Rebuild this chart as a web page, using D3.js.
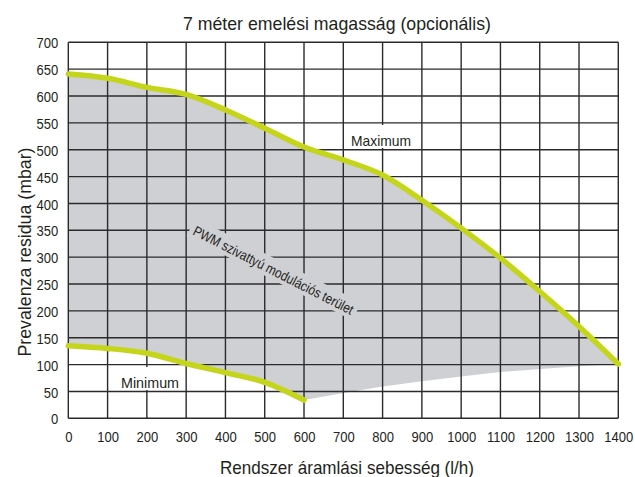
<!DOCTYPE html>
<html><head><meta charset="utf-8">
<script src="https://cdn.jsdelivr.net/npm/d3@7"></script>
<style>body{margin:0;background:#fff}svg{display:block}text{font-family:"Liberation Sans",Arial,sans-serif;fill:#231f20}</style>
</head><body><svg id="c" width="635" height="477"></svg>
<script>
const flows = [0,100,200,300,400,500,600,700,800,900,1000,1100,1200,1300,1400];
const maxCurve = [641,633,616,603,574,540,505,481,453,406,354,298,236,171,101];
const minFlows = [0,100,200,300,400,500,600];
const minCurve = [135,130,121,102,85,67,34];
const lowFlows = [600,700,800,900,1000,1100,1200,1300,1400];
const lowEdge = [34,47,59,69,78,86,92,97,101];
const xTicks = [0,100,200,300,400,500,600,700,800,900,1000,1100,1200,1300,1400];
const yTicks = [0,50,100,150,200,250,300,350,400,450,500,550,600,650,700];
const title = "7 méter emelési magasság (opcionális)";
const xTitle = "Rendszer áramlási sebesség (l/h)";
const yTitle = "Prevalenza residua (mbar)";

const svg = d3.select("#c");
const x = d3.scaleLinear().domain([0,1400]).range([68.3,618.3]);
const y = d3.scaleLinear().domain([0,700]).range([418.3,42.3]);

function condense(sel, f, fixed){
  sel.each(function(){
    const w = fixed || this.getComputedTextLength()*f;
    d3.select(this).attr("textLength",w).attr("lengthAdjust","spacingAndGlyphs");
  });
}

const upper = flows.map((f,i)=>[f,maxCurve[i]]);
const lower = minFlows.map((f,i)=>[f,minCurve[i]]).concat(lowFlows.slice(1).map((f,i)=>[f,lowEdge[i+1]]));
const lineGen = d3.line().x(d=>x(d[0])).y(d=>y(d[1])).curve(d3.curveMonotoneX);
const upPath = lineGen(upper);
const lowPathRev = d3.line().x(d=>x(d[0])).y(d=>y(d[1])).curve(d3.curveLinear)(lower.slice().reverse());
svg.append("path").attr("d", upPath + "L" + lowPathRev.slice(1) + "Z").attr("fill","#cfd0d3");

const g = svg.append("g").attr("stroke","#2b2b2b").attr("stroke-width",1.4);
xTicks.forEach(t=>g.append("line").attr("x1",x(t)).attr("x2",x(t)).attr("y1",y(0)).attr("y2",y(700)));
yTicks.forEach(t=>g.append("line").attr("y1",y(t)).attr("y2",y(t)).attr("x1",x(0)).attr("x2",x(1400)));

const xa = svg.append("g").attr("transform",`translate(0,${y(0)})`)
  .call(d3.axisBottom(x).tickValues(xTicks).tickSize(0).tickPadding(13).tickFormat(d3.format("d")));
const ya = svg.append("g").attr("transform",`translate(${x(0)-10},0)`)
  .call(d3.axisLeft(y).tickValues(yTicks).tickSize(0).tickPadding(0).tickFormat(d3.format("d")));
[xa,ya].forEach(a=>{a.select(".domain").remove();a.selectAll("text").attr("font-size",15.5).attr("font-family",null).style("fill","#231f20");condense(a.selectAll("text"),0.84);});
ya.selectAll("text").attr("dy","0.36em");

svg.append("rect").attr("x",347).attr("y",125).attr("width",68).attr("height",23).attr("fill","#fff");
condense(svg.append("text").attr("x",381).attr("y",146).attr("text-anchor","middle").attr("font-size",15).text("Maximum"),0,60);
svg.append("rect").attr("x",117).attr("y",367).attr("width",67).attr("height",23).attr("fill","#fff");
condense(svg.append("text").attr("x",150).attr("y",388).attr("text-anchor","middle").attr("font-size",15).text("Minimum"),0,58);

const pw = svg.append("g").attr("transform","translate(273,271) rotate(27)");
pw.append("rect").attr("x",-93).attr("y",-12).attr("width",186).attr("height",20).attr("fill","#cfd0d3");
condense(pw.append("text").attr("text-anchor","middle").attr("y",4).attr("font-size",14).text("PWM szivattyú modulációs terület"),0,178);

svg.append("path").attr("d",upPath).attr("fill","none").attr("stroke","#c5d51c").attr("stroke-width",5.5).attr("stroke-linecap","round");
svg.append("path").attr("d",lineGen(minFlows.map((f,i)=>[f,minCurve[i]]))).attr("fill","none").attr("stroke","#c5d51c").attr("stroke-width",5.5).attr("stroke-linecap","round");

condense(svg.append("text").attr("x",337).attr("y",30).attr("text-anchor","middle").attr("font-size",19).text(title),0,308);
condense(svg.append("text").attr("x",347).attr("y",474).attr("text-anchor","middle").attr("font-size",19).text(xTitle),0,254);
condense(svg.append("text").attr("transform","translate(31,252) rotate(-90)").attr("text-anchor","middle").attr("font-size",19).text(yTitle),0,209);
</script></body></html>
